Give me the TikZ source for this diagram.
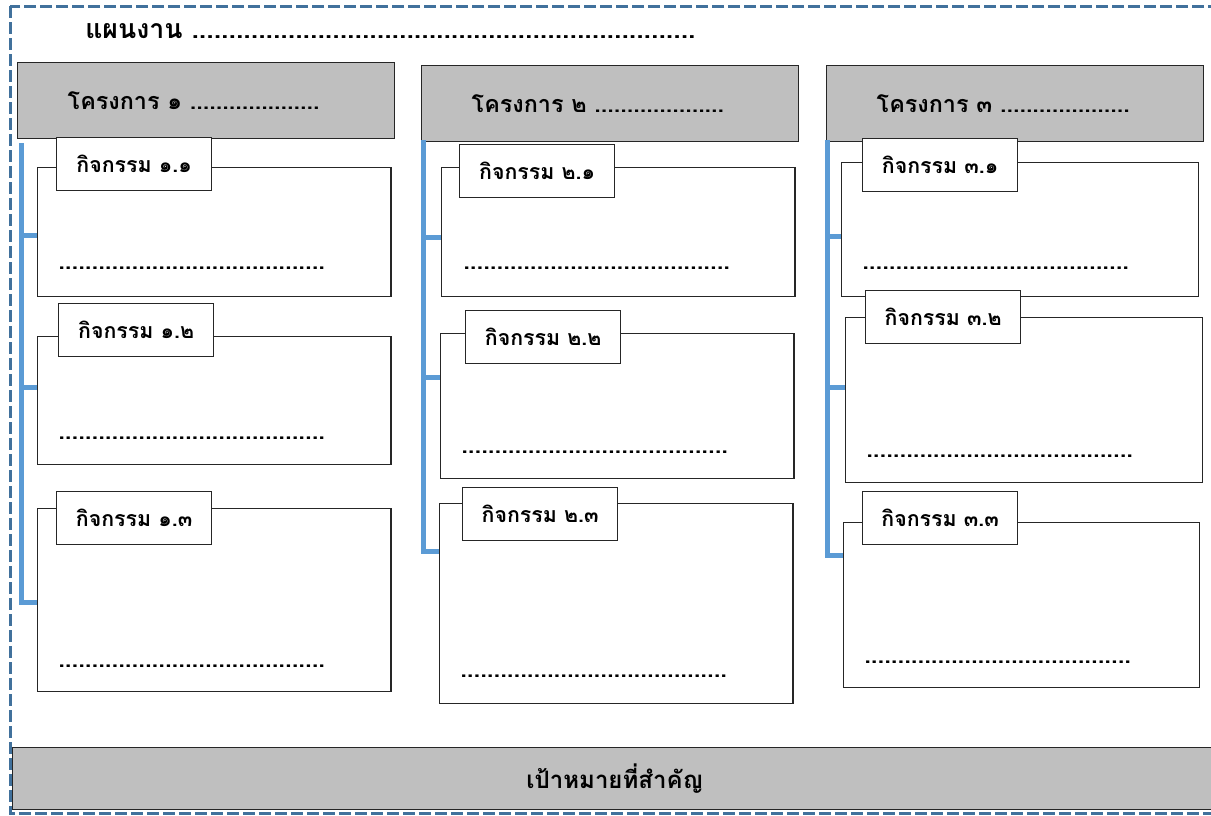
\documentclass[tikz,border=0pt]{standalone}
\usepackage{fontspec}
\newfontfamily\thaifont[Script=Thai]{Loma}
\definecolor{framecol}{HTML}{41719C}
\definecolor{bracecol}{HTML}{5B9BD5}
\definecolor{projgray}{HTML}{BFBFBF}
\begin{document}
\begin{tikzpicture}[x=0.75pt,y=-0.75pt]
\tikzset{
  projbox/.style={draw=black!85, fill=projgray, line width=1.1pt, anchor=north west,
    minimum width=282.75pt, minimum height=57pt, text width=207.75pt, inner xsep=37.5pt,
    align=left, font=\thaifont\bfseries\fontsize{17.5}{20}\selectfont},
  actbox/.style={draw=black!85, fill=white, line width=1pt, anchor=north west, minimum width=265pt},
  tabbox/.style={draw=black!85, fill=white, line width=1pt, anchor=north west, minimum width=116.25pt,
    minimum height=39.75pt, inner sep=0pt, font=\thaifont\bfseries\fontsize{16}{18}\selectfont},
  dotline/.style={anchor=west, inner sep=0pt, font=\thaifont\bfseries\fontsize{18}{20}\selectfont},
  bracket/.style={draw=bracecol, line width=3.75pt}
}
\useasboundingbox (0,0) rectangle (1211,815);
\draw[framecol, line width=2.25pt, dash pattern=on 9pt off 3pt] (10,6) rectangle (1240,813);
\node[anchor=west, inner sep=0pt, font=\thaifont\bfseries\fontsize{20}{22}\selectfont] (title) at (85,31)
  {แผนงาน ....................................................................};

\node[projbox] (P1) at (17,62) {โครงการ ๑ ....................};
\node[projbox] (P2) at (421,65) {โครงการ ๒ ....................};
\node[projbox] (P3) at (826,65) {โครงการ ๓ ....................};

\node[actbox, minimum height=96.75pt] (A11) at (37,167) {};
\node[tabbox] (T11) at (56,137) {กิจกรรม ๑.๑};
\node[dotline] (D11) at (58,268) {........................................};
\node[actbox, minimum height=96pt] (A12) at (37,336) {};
\node[tabbox] (T12) at (58,303) {กิจกรรม ๑.๒};
\node[dotline] (D12) at (58,438) {........................................};
\node[actbox, minimum height=137.25pt] (A13) at (37,508) {};
\node[tabbox] (T13) at (56,491) {กิจกรรม ๑.๓};
\node[dotline] (D13) at (58,666) {........................................};

\node[actbox, minimum height=96.75pt] (A21) at (441,167) {};
\node[tabbox] (T21) at (459,144) {กิจกรรม ๒.๑};
\node[dotline] (D21) at (463,268) {........................................};
\node[actbox, minimum height=108.75pt] (A22) at (440,333) {};
\node[tabbox] (T22) at (465,310) {กิจกรรม ๒.๒};
\node[dotline] (D22) at (461,452) {........................................};
\node[actbox, minimum height=150pt] (A23) at (439,503) {};
\node[tabbox] (T23) at (462,487) {กิจกรรม ๒.๓};
\node[dotline] (D23) at (460,676) {........................................};

\node[actbox, minimum width=267.75pt, minimum height=100.5pt] (A31) at (841,162) {};
\node[tabbox] (T31) at (862,138) {กิจกรรม ๓.๑};
\node[dotline] (D31) at (862,268) {........................................};
\node[actbox, minimum width=267.75pt, minimum height=123.75pt] (A32) at (845,317) {};
\node[tabbox] (T32) at (865,290) {กิจกรรม ๓.๒};
\node[dotline] (D32) at (866,456) {........................................};
\node[actbox, minimum width=267pt, minimum height=123.75pt] (A33) at (843,522) {};
\node[tabbox] (T33) at (862,491) {กิจกรรม ๓.๓};
\node[dotline] (D33) at (864,662) {........................................};

\coordinate (B1) at (21,143);
\coordinate (k11) at (37,235);
\coordinate (k12) at (37,387);
\coordinate (k13) at (37,602);
\draw[bracket] (B1) |- (k13);
\draw[bracket] (B1 |- k11) -- (k11);
\draw[bracket] (B1 |- k12) -- (k12);

\coordinate (B2) at (423,140);
\coordinate (k21) at (441,237);
\coordinate (k22) at (440,377);
\coordinate (k23) at (439,551);
\draw[bracket] (B2) |- (k23);
\draw[bracket] (B2 |- k21) -- (k21);
\draw[bracket] (B2 |- k22) -- (k22);

\coordinate (B3) at (827,140);
\coordinate (k31) at (841,236);
\coordinate (k32) at (845,387);
\coordinate (k33) at (843,555);
\draw[bracket] (B3) |- (k33);
\draw[bracket] (B3 |- k31) -- (k31);
\draw[bracket] (B3 |- k32) -- (k32);

\node[draw=black!85, fill=projgray, line width=1.1pt, anchor=north west, minimum width=903pt,
  minimum height=46.5pt, font=\thaifont\bfseries\fontsize{18}{20}\selectfont] (goal) at (12,747) {เป้าหมายที่สำคัญ};
\end{tikzpicture}
\end{document}
